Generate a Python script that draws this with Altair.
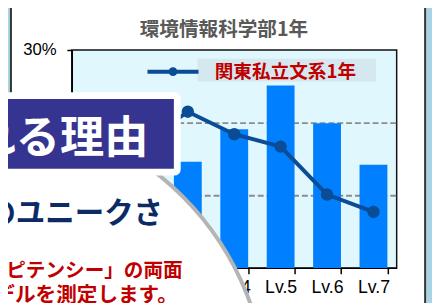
import altair as alt
import pandas as pd

# ---- values ----
levels = ["Lv.1", "Lv.2", "Lv.3", "Lv.4", "Lv.5", "Lv.6", "Lv.7"]
faculty_share = [0.030, 0.085, 0.146, 0.191, 0.251, 0.199, 0.142]   # bars: 環境情報科学部1年
kanto_share = [0.120, 0.170, 0.215, 0.184, 0.167, 0.101, 0.077]     # line: 関東私立文系1年
y_tick_values = [0.0, 0.1, 0.2, 0.3]
chart_title = "環境情報科学部1年"
series_name = "関東私立文系1年"
banner_text = "れる理由"
heading_text = "のユニークさ"
body_line_1 = "ンピテンシー」の両面"
body_line_2 = "デルを測定します。"

W, H = 331, 222
JP = "Noto Sans CJK JP"
LINE_BLUE = "#0b4c97"

bars_df = pd.DataFrame({"level": levels, "share": faculty_share})
line_df = pd.DataFrame({"level": levels, "share": kanto_share,
                        "series": [series_name] * len(levels)})
one = pd.DataFrame({"k": [0]})

x_scale = alt.Scale(domain=levels, paddingInner=0.4, paddingOuter=0.2)
y_scale = alt.Scale(domain=[0, 0.3], nice=False, zero=True)

x_axis = alt.Axis(title=None, labelAngle=0, labelFont="Liberation Sans", labelFontSize=18,
                  labelColor="#000000", domainColor="#000000", domainWidth=1.5,
                  tickColor="#000000", tickWidth=1.5, tickSize=6, tickBand="extent",
                  labelPadding=5, grid=False, zindex=0)
y_axis = alt.Axis(title=None, values=y_tick_values, format=".0%", labelFont="Liberation Sans",
                  labelFontSize=17, labelColor="#000000", domainColor="#000000", domainWidth=1.5,
                  tickColor="#000000", tickWidth=1.5, tickSize=5, labelPadding=11,
                  grid=True, gridColor="#8c8c8c", gridWidth=2, gridDash=[6, 3],
                  gridOpacity={"condition": {"test": "datum.value > 0.001 && datum.value < 0.29",
                                             "value": 1}, "value": 0},
                  zindex=0)

def deco(df=one):
    return alt.Chart(df)

# outer slide background strips and chart frame
left_strip = deco().mark_rect(color="#a9d4e5").encode(
    x=alt.value(-65), x2=alt.value(-62), y=alt.value(-48), y2=alt.value(H + 40))
right_strip = deco().mark_rect(color="#a9d4e5").encode(
    x=alt.value(361), x2=alt.value(367), y=alt.value(-48), y2=alt.value(H + 40))
frame = deco().mark_rect(fillOpacity=0, stroke="#333333", strokeWidth=2).encode(
    x=alt.value(-62), x2=alt.value(360), y=alt.value(-44), y2=alt.value(H + 40))
legend_box = deco().mark_rect(color="#d6e8ef").encode(
    x=alt.value(128), x2=alt.value(310), y=alt.value(9), y2=alt.value(32))

bars = alt.Chart(bars_df).mark_bar(color="#0080ff").encode(
    x=alt.X("level:N", scale=x_scale, axis=x_axis, sort=levels),
    y=alt.Y("share:Q", scale=y_scale, axis=y_axis),
)

legend_symbol = ("M-2.5,0L2.5,0M0.24,0A0.24,0.24,0,1,1,-0.24,0"
                 "A0.24,0.24,0,1,1,0.24,0Z")
line = alt.Chart(line_df).mark_line(
    strokeWidth=4,
    point=alt.OverlayMarkDef(filled=True, size=160, opacity=1),
).encode(
    x=alt.X("level:N", scale=x_scale, axis=x_axis, sort=levels),
    y=alt.Y("share:Q", scale=y_scale, axis=y_axis),
    color=alt.Color("series:N",
                    scale=alt.Scale(domain=[series_name], range=[LINE_BLUE]),
                    legend=alt.Legend(title=None, orient="none", legendX=90.6, legendY=9.6,
                                      padding=0, symbolType=legend_symbol, symbolSize=433,
                                      symbolStrokeWidth=4, symbolFillColor=LINE_BLUE,
                                      symbolStrokeColor=LINE_BLUE,
                                      labelFont=JP, labelFontSize=19, labelFontWeight="bold",
                                      labelColor="#c00000", labelOffset=30, labelLimit=300)),
)

title = deco().mark_text(text=chart_title, font=JP, fontSize=20, fontWeight="bold",
                         color="#595959", align="center", baseline="alphabetic").encode(
    x=alt.value(155), y=alt.value(-14))

# slide overlay: white circle (radius ~294 px), banner and texts
circle = deco().mark_point(shape="circle", size=345744, filled=True, fill="#ffffff",
                           stroke="#b4b4b4", strokeWidth=4, opacity=1).encode(
    x=alt.value(-95), y=alt.value(357))
banner = deco().mark_rect(fill="#353591", stroke="#ffffff", strokeWidth=7,
                          cornerRadius=3).encode(
    x=alt.value(-80), x2=alt.value(107.5), y=alt.value(46.5), y2=alt.value(124.5))
banner_t = deco().mark_text(text=banner_text, font=JP, fontSize=45, fontWeight="bold",
                            color="#ffffff", align="right", baseline="alphabetic").encode(
    x=alt.value(78), y=alt.value(105))
heading_t = deco().mark_text(text=heading_text, font=JP, fontSize=30, fontWeight="bold",
                             color="#0b2a66", align="right", baseline="alphabetic").encode(
    x=alt.value(93), y=alt.value(176))
body1_t = deco().mark_text(text=body_line_1, font=JP, fontSize=20, fontWeight="bold",
                           color="#c00000", align="right", baseline="alphabetic").encode(
    x=alt.value(113), y=alt.value(231))
body2_t = deco().mark_text(text=body_line_2, font=JP, fontSize=21, fontWeight="bold",
                           color="#c00000", align="right", baseline="alphabetic").encode(
    x=alt.value(108), y=alt.value(257))

chart = alt.layer(
    left_strip, right_strip, frame, legend_box, bars, line, title,
    circle, banner, banner_t, heading_t, body1_t, body2_t,
).properties(
    width=W, height=H,
    padding={"left": 65, "top": 40, "right": 36, "bottom": 33},
    autosize=alt.AutoSizeParams(type="none"),
    background="#ffffff",
).configure_view(
    fill="#e0f7fd", stroke="#111111", strokeWidth=1.5,
)

chart.save("out.html", embed_options={"renderer": "svg", "actions": False})
